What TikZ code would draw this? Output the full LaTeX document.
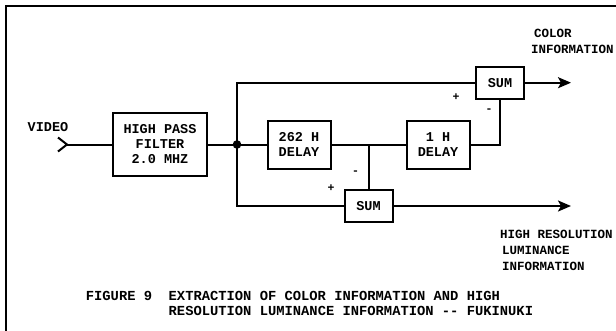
\documentclass[tikz,border=0pt]{standalone}
\usepackage{fontspec}
\setmonofont{Liberation Mono}
\usetikzlibrary{arrows.meta,positioning,calc}

\begin{document}
\begin{tikzpicture}[
      x=1pt, y=-1pt,
      every node/.style={font=\ttfamily\bfseries\fontsize{13.5}{15}\selectfont},
      block/.style={draw, line width=2pt, align=center, inner sep=0pt},
      sumbox/.style={block, minimum width=48pt, minimum height=32pt},
      delaybox/.style={block, minimum width=63pt, minimum height=48pt},
      sign/.style={font=\ttfamily\bfseries\fontsize{11.5}{12}\selectfont, inner sep=0pt},
      outlabel/.style={
        align=left,
        inner sep=0pt,
        anchor=north west,
        font=\ttfamily\bfseries\fontsize{12.5}{16}\selectfont
      },
      sigline/.style={line width=2pt},
      outarrow/.style={sigline, -{Stealth[length=13pt,width=11pt,inset=3pt]}},
  ]
  \useasboundingbox (0,0) rectangle (616,330);
  % frame, open at right and bottom
  \draw[line width=2pt] (5.5,6) rectangle (640,350);

  % blocks
  \coordinate (vin) at (67,144.5);
  \node[block, minimum width=94pt, minimum height=63pt] (hpf) at (160,144.5) {HIGH PASS\\FILTER\\2.0 MHZ};
  \coordinate (jn) at (237,144.5);
  \node[delaybox] (d262) at (299,144.5) {262 H\\DELAY};
  \node[delaybox] (d1) at (438,144.5) {1 H\\DELAY};
  \node[sumbox] (sum1) at (500,82.7) {SUM};
  \node[sumbox] (sum2) at (368.5,206) {SUM};
  \coordinate (br) at (sum2 |- d262.east);
  \coordinate (out1) at ($(sum1.east)+(46,0)$);
  \coordinate (out2) at (out1 |- sum2.east);

  % input
  \node[anchor=base west, inner sep=0pt] (video) at (27.5,131.5) {VIDEO};
  \draw[sigline] (vin) ++(-9,-7) -- (vin) -- ++(-9,7);

  % connectors
  \draw[sigline] (vin) -- (hpf.west);
  \draw[sigline] (hpf.east) -- (jn) -- (d262.west);
  \draw[sigline] (jn) |- (sum1.west);
  \draw[sigline] (jn) |- (sum2.west);
  \draw[sigline] (d262.east) -- (d1.west);
  \draw[sigline] (br) -- (sum2.north);
  \draw[sigline] (d1.east) -| (sum1.south);
  \draw[outarrow] (sum1.east) -- (out1);
  \draw[outarrow] (sum2.east) -- (out2);
  \fill (jn) circle (4.3pt);

  % signs
  \node[sign] (p1) at (456,97) {+};
  \node[sign] (m1) at (489,111) {-};
  \node[sign] (m2) at (355.6,173) {-};
  \node[sign] (p2) at (331,188) {+};

  % outputs
  \node[outlabel] (clabel) at (531,29) {\hspace*{3pt}COLOR\\INFORMATION};
  \node[outlabel] (llabel) at (500,229.5) {HIGH RESOLUTION\\\hspace*{2pt}LUMINANCE\\\hspace*{2pt}INFORMATION};

  % caption
  \node[outlabel, font=\ttfamily\bfseries\fontsize{13.8}{15}\selectfont] (caption) at (85.7,291.5)
    {FIGURE 9~~EXTRACTION OF COLOR INFORMATION AND HIGH\\\phantom{FIGURE 9~~}RESOLUTION LUMINANCE INFORMATION -- FUKINUKI};
\end{tikzpicture}
\end{document}
